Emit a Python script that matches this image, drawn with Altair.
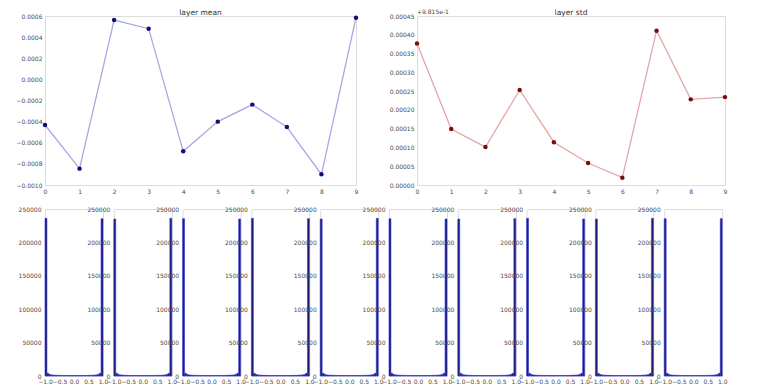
import altair as alt
import pandas as pd
import numpy as np

# ---- data ----
steps = list(range(10))
layer_mean = [-0.000432, -0.000845, 0.000562, 0.000480, -0.000681,
              -0.000400, -0.000239, -0.000451, -0.000899, 0.000584]
std_offset = 0.9815
layer_std_delta = [0.000377, 0.000149, 0.000101, 0.000253, 0.000114,
                   0.0000586, 0.0000195, 0.000411, 0.000228, 0.000234]

mean_ticks = [-0.0010, -0.0008, -0.0006, -0.0004, -0.0002, 0.0, 0.0002, 0.0004, 0.0006]
std_ticks = [0.0, 0.00005, 0.00010, 0.00015, 0.00020, 0.00025, 0.00030, 0.00035, 0.00040, 0.00045]

n_bins = 30
left_peaks = [236000, 235000, 235500, 236000, 235000, 235500, 235000, 236000, 235000, 235500]
right_peaks = [235500, 236000, 235000, 235500, 236000, 235000, 235500, 235000, 236000, 235500]
inner_counts = [4000, 2200, 1600, 1300, 1100, 1000, 900, 850, 800, 780, 760, 750, 740, 735,
                735, 740, 750, 760, 780, 800, 850, 900, 1000, 1100, 1300, 1600, 2200, 4000]
hist_x_ticks = [-1.0, -0.5, 0.0, 0.5, 1.0]
hist_y_ticks = [0, 50000, 100000, 150000, 200000, 250000]

FONT = "DejaVu Sans"
LABEL_COLOR = "#4a4a4a"

def axis(values, fmt, pad=3):
    return alt.Axis(values=values, format=fmt, title=None, grid=False, ticks=False,
                    domain=False, labelFont=FONT, labelFontSize=6, labelColor=LABEL_COLOR,
                    labelPadding=pad, labelOverlap=False, labelFlush=False)

def text_layer(label, x_px, y_px, align, size, color, baseline="bottom"):
    df = pd.DataFrame({"t": [label]})
    return alt.Chart(df).mark_text(
        align=align, baseline=baseline, font=FONT, fontSize=size, color=color
    ).encode(x=alt.value(x_px), y=alt.value(y_px), text="t:N")

W_MEAN, W_STD, H_TOP = 311, 308, 169

# ---- top: layer mean ----
mean_df = pd.DataFrame({"step": steps, "value": layer_mean})
mbase = alt.Chart(mean_df).encode(
    x=alt.X("step:Q", scale=alt.Scale(domain=[0, 9], nice=False, zero=False), axis=axis(steps, "d")),
    y=alt.Y("value:Q", scale=alt.Scale(domain=[-0.0010, 0.0006], nice=False, zero=False),
            axis=axis(mean_ticks, ".4f")),
)
mean_chart = alt.layer(
    mbase.mark_line(color="#a8a8e4", strokeWidth=1.3),
    mbase.mark_point(filled=True, size=20, color="#101078", opacity=1),
    text_layer("layer mean", W_MEAN / 2, -1.5, "center", 7.5, "#333333", "alphabetic"),
).properties(width=W_MEAN, height=H_TOP)

# ---- top: layer std ----
std_df = pd.DataFrame({"step": steps, "value": layer_std_delta})
sbase = alt.Chart(std_df).encode(
    x=alt.X("step:Q", scale=alt.Scale(domain=[0, 9], nice=False, zero=False), axis=axis(steps, "d")),
    y=alt.Y("value:Q", scale=alt.Scale(domain=[0, 0.00045], nice=False, zero=False),
            axis=axis(std_ticks, ".5f")),
)
std_chart = alt.layer(
    sbase.mark_line(color="#e6a6a6", strokeWidth=1.3),
    sbase.mark_point(filled=True, size=20, color="#7a0d0d", opacity=1),
    text_layer("+%.3fe-1" % (std_offset * 10), 0, -1, "left", 6, LABEL_COLOR),
    text_layer("layer std", W_STD / 2, -1.5, "center", 7.5, "#333333", "alphabetic"),
).properties(width=W_STD, height=H_TOP)

top = alt.hconcat(mean_chart, std_chart, spacing=61, bounds="flush")

# ---- bottom: histograms ----
edges = np.linspace(-1, 1, n_bins + 1)
hists = []
for i in range(10):
    counts = [left_peaks[i]] + inner_counts + [right_peaks[i]]
    hdf = pd.DataFrame({"x0": edges[:-1], "x1": edges[1:], "count": counts,
                        "base": [0] * len(counts)})
    h = alt.Chart(hdf).mark_bar(color="#1b1b6e", stroke="#3535d8", strokeWidth=0.6).encode(
        x=alt.X("x0:Q", scale=alt.Scale(domain=[-1, 1], nice=False, zero=False),
                axis=axis(hist_x_ticks, ".1f", pad=2)),
        x2="x1:Q",
        y=alt.Y("count:Q", scale=alt.Scale(domain=[0, 250000], nice=False),
                axis=axis(hist_y_ticks, "d", pad=4)),
        y2="base:Q",
    ).properties(width=58, height=167)
    hists.append(h)

bottom = alt.hconcat(*hists, spacing=10.8, bounds="flush")

chart = alt.vconcat(top, bottom, spacing=10).properties(
    padding={"left": 7, "top": 0, "right": 0, "bottom": 0}
).configure_view(
    stroke="#888888", strokeWidth=1.2
).configure(background="white")

chart.save("out.html", embed_options={"renderer": "svg", "actions": False})
